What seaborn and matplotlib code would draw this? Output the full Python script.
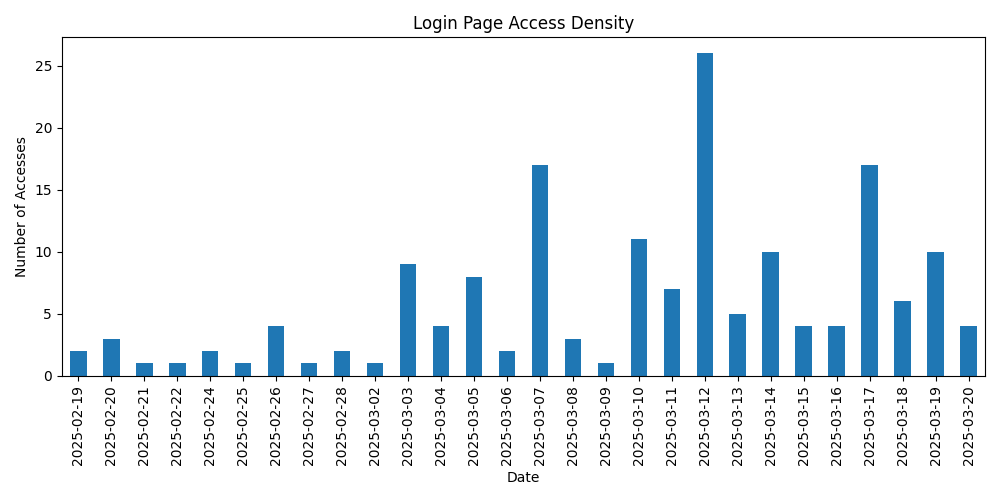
import matplotlib
matplotlib.use("Agg")
import matplotlib.pyplot as plt
import seaborn as sns
import pandas as pd

dates = ["2025-02-19", "2025-02-20", "2025-02-21", "2025-02-22", "2025-02-24",
         "2025-02-25", "2025-02-26", "2025-02-27", "2025-02-28", "2025-03-02",
         "2025-03-03", "2025-03-04", "2025-03-05", "2025-03-06", "2025-03-07",
         "2025-03-08", "2025-03-09", "2025-03-10", "2025-03-11", "2025-03-12",
         "2025-03-13", "2025-03-14", "2025-03-15", "2025-03-16", "2025-03-17",
         "2025-03-18", "2025-03-19", "2025-03-20"]
counts = [2, 3, 1, 1, 2, 1, 4, 1, 2, 1, 9, 4, 8, 2, 17, 3, 1, 11, 7, 26,
          5, 10, 4, 4, 17, 6, 10, 4]

df = pd.DataFrame({"Date": dates, "Count": counts})

fig, ax = plt.subplots(figsize=(10, 5), dpi=100)
sns.barplot(data=df, x="Date", y="Count", color="#1f77b4", saturation=1,
            width=0.5, ax=ax)
ax.set_title("Login Page Access Density")
ax.set_xlabel("Date")
ax.set_ylabel("Number of Accesses")
ax.set_xlim(-0.5, len(dates) - 0.5)
ax.tick_params(axis="x", rotation=90)
fig.tight_layout()
fig.savefig("out.png")
